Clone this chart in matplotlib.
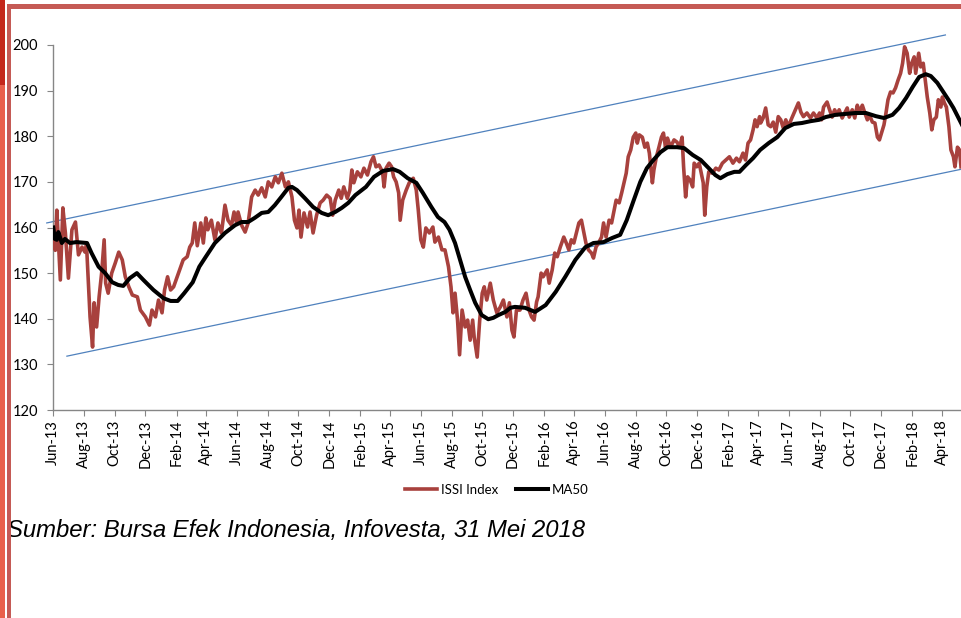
import matplotlib.pyplot as plt
import matplotlib.dates as mdates
import pandas as pd
from matplotlib.patches import Rectangle

# data (ISSI index and its 50-day moving average)
issi_dates = [
    "2013-06-03", "2013-06-05", "2013-06-08", "2013-06-15", "2013-06-20", "2013-06-25", "2013-07-01", "2013-07-08",
    "2013-07-15", "2013-07-21", "2013-07-28", "2013-08-03", "2013-08-06", "2013-08-13", "2013-08-18", "2013-08-21",
    "2013-08-26", "2013-08-31", "2013-09-05", "2013-09-10", "2013-09-13", "2013-09-18", "2013-09-25", "2013-10-02",
    "2013-10-09", "2013-10-16", "2013-10-22", "2013-10-29", "2013-11-05", "2013-11-15", "2013-11-21", "2013-12-01",
    "2013-12-09", "2013-12-14", "2013-12-21", "2013-12-27", "2014-01-03", "2014-01-08", "2014-01-14", "2014-01-20",
    "2014-01-26", "2014-02-02", "2014-02-09", "2014-02-14", "2014-02-22", "2014-02-27", "2014-03-04", "2014-03-09",
    "2014-03-14", "2014-03-21", "2014-03-26", "2014-03-31", "2014-04-04", "2014-04-11", "2014-04-18", "2014-04-24",
    "2014-05-01", "2014-05-08", "2014-05-14", "2014-05-21", "2014-05-26", "2014-05-31", "2014-06-03", "2014-06-10",
    "2014-06-17", "2014-06-23", "2014-06-30", "2014-07-07", "2014-07-13", "2014-07-20", "2014-07-27", "2014-08-02",
    "2014-08-09", "2014-08-16", "2014-08-22", "2014-08-29", "2014-09-05", "2014-09-11", "2014-09-18", "2014-09-23",
    "2014-09-28", "2014-10-02", "2014-10-06", "2014-10-12", "2014-10-19", "2014-10-24", "2014-10-30", "2014-11-06",
    "2014-11-13", "2014-11-19", "2014-11-26", "2014-12-03", "2014-12-08", "2014-12-13", "2014-12-20", "2014-12-25",
    "2014-12-30", "2015-01-06", "2015-01-11", "2015-01-15", "2015-01-19", "2015-01-26", "2015-02-02", "2015-02-08",
    "2015-02-15", "2015-02-22", "2015-02-27", "2015-03-04", "2015-03-10", "2015-03-17", "2015-03-20", "2015-03-24",
    "2015-03-30", "2015-04-04", "2015-04-08", "2015-04-13", "2015-04-18", "2015-04-21", "2015-04-26", "2015-05-03",
    "2015-05-09", "2015-05-17", "2015-05-23", "2015-05-27", "2015-06-01", "2015-06-06", "2015-06-11", "2015-06-18",
    "2015-06-25", "2015-06-29", "2015-07-06", "2015-07-13", "2015-07-19", "2015-07-26", "2015-07-31", "2015-08-04",
    "2015-08-08", "2015-08-13", "2015-08-17", "2015-08-22", "2015-08-28", "2015-09-02", "2015-09-07", "2015-09-12",
    "2015-09-15", "2015-09-21", "2015-09-26", "2015-10-01", "2015-10-05", "2015-10-10", "2015-10-17", "2015-10-23",
    "2015-10-30", "2015-11-06", "2015-11-12", "2015-11-19", "2015-11-24", "2015-11-29", "2015-12-03", "2015-12-08",
    "2015-12-15", "2015-12-21", "2015-12-27", "2016-01-02", "2016-01-07", "2016-01-12", "2016-01-17", "2016-01-20",
    "2016-01-26", "2016-01-30", "2016-02-07", "2016-02-11", "2016-02-17", "2016-02-22", "2016-02-27", "2016-03-04",
    "2016-03-11", "2016-03-16", "2016-03-21", "2016-03-26", "2016-03-31", "2016-04-05", "2016-04-10", "2016-04-15",
    "2016-04-20", "2016-04-24", "2016-04-29", "2016-05-05", "2016-05-09", "2016-05-14", "2016-05-19", "2016-05-25",
    "2016-05-29", "2016-06-03", "2016-06-09", "2016-06-14", "2016-06-19", "2016-06-23", "2016-06-29", "2016-07-04",
    "2016-07-09", "2016-07-13", "2016-07-17", "2016-07-22", "2016-07-27", "2016-08-01", "2016-08-04", "2016-08-08",
    "2016-08-14", "2016-08-19", "2016-08-24", "2016-08-28", "2016-09-03", "2016-09-06", "2016-09-11", "2016-09-16",
    "2016-09-21", "2016-09-25", "2016-09-29", "2016-10-03", "2016-10-09", "2016-10-16", "2016-10-22", "2016-10-27",
    "2016-11-01", "2016-11-04", "2016-11-08", "2016-11-12", "2016-11-17", "2016-11-22", "2016-11-25", "2016-11-30",
    "2016-12-05", "2016-12-09", "2016-12-13", "2016-12-16", "2016-12-20", "2016-12-24", "2016-12-31", "2017-01-07",
    "2017-01-13", "2017-01-20", "2017-01-27", "2017-02-03", "2017-02-10", "2017-02-17", "2017-02-23", "2017-03-02",
    "2017-03-07", "2017-03-12", "2017-03-17", "2017-03-22", "2017-03-26", "2017-03-30", "2017-04-04", "2017-04-06",
    "2017-04-11", "2017-04-16", "2017-04-21", "2017-04-26", "2017-05-01", "2017-05-06", "2017-05-11", "2017-05-16",
    "2017-05-21", "2017-05-26", "2017-05-31", "2017-06-07", "2017-06-14", "2017-06-20", "2017-06-25", "2017-06-30",
    "2017-07-07", "2017-07-14", "2017-07-20", "2017-07-27", "2017-08-01", "2017-08-05", "2017-08-09", "2017-08-16",
    "2017-08-21", "2017-08-26", "2017-08-31", "2017-09-05", "2017-09-09", "2017-09-15", "2017-09-20", "2017-09-25",
    "2017-09-29", "2017-10-05", "2017-10-10", "2017-10-15", "2017-10-19", "2017-10-25", "2017-10-30", "2017-11-04",
    "2017-11-08", "2017-11-14", "2017-11-19", "2017-11-24", "2017-11-28", "2017-12-02", "2017-12-07", "2017-12-11",
    "2017-12-15", "2017-12-20", "2017-12-25", "2017-12-30", "2018-01-04", "2018-01-09", "2018-01-13", "2018-01-17",
    "2018-01-22", "2018-01-27", "2018-01-31", "2018-02-05", "2018-02-08", "2018-02-14", "2018-02-18", "2018-02-23",
    "2018-02-27", "2018-03-03", "2018-03-08", "2018-03-12", "2018-03-16", "2018-03-21", "2018-03-25", "2018-03-30",
    "2018-04-02", "2018-04-06", "2018-04-10", "2018-04-15", "2018-04-19", "2018-04-24", "2018-04-27", "2018-05-02",
    "2018-05-06", "2018-05-09",
]
issi_values = [
    158.0, 155.0, 163.8, 148.5, 164.3, 158.8, 148.9, 159.5,
    161.2, 154.0, 155.7, 154.6, 156.2, 140.4, 133.8, 143.5,
    138.2, 144.8, 150.0, 157.3, 147.8, 145.6, 150.0, 152.2,
    154.6, 152.9, 149.2, 147.0, 145.2, 144.8, 141.9, 140.4,
    138.6, 141.9, 140.4, 144.1, 141.3, 146.3, 149.2, 146.3,
    147.0, 149.2, 151.4, 152.9, 153.6, 155.7, 156.6, 161.0,
    156.0, 161.0, 156.6, 162.1, 159.5, 161.6, 157.3, 161.0,
    158.8, 164.9, 161.6, 160.5, 163.4, 161.0, 163.4, 160.5,
    159.0, 161.0, 166.7, 168.2, 167.1, 168.7, 166.7, 170.0,
    168.9, 171.1, 169.8, 171.9, 168.9, 170.0, 166.7, 161.6,
    159.9, 163.8, 157.9, 163.2, 160.1, 163.4, 158.8, 162.7,
    165.4, 166.0, 167.1, 166.4, 162.7, 166.0, 168.2, 166.4,
    168.9, 166.4, 168.2, 172.6, 169.8, 172.2, 171.1, 173.0,
    171.5, 174.4, 175.5, 173.3, 173.7, 172.2, 168.9, 173.0,
    174.1, 173.3, 171.1, 170.0, 167.6, 161.6, 166.0, 168.2,
    169.8, 170.8, 168.2, 163.8, 157.3, 155.7, 159.9, 158.8,
    160.1, 156.8, 157.9, 155.1, 155.1, 151.4, 147.0, 141.3,
    145.6, 139.7, 132.1, 141.9, 138.2, 139.7, 135.3, 139.7,
    136.0, 131.6, 139.7, 145.6, 147.0, 144.1, 147.8, 144.1,
    141.3, 142.6, 144.1, 140.4, 143.5, 137.5, 136.0, 141.9,
    141.9, 144.1, 145.6, 141.9, 140.4, 139.7, 143.7, 144.8,
    150.0, 149.2, 150.7, 147.8, 150.7, 154.4, 153.6, 155.7,
    157.9, 156.6, 155.1, 157.3, 156.6, 158.8, 161.0, 161.6,
    158.8, 156.6, 155.1, 154.4, 153.3, 155.7, 156.6, 157.9,
    161.0, 157.9, 161.6, 161.0, 163.8, 166.0, 165.4, 167.6,
    170.0, 171.9, 175.5, 177.0, 179.8, 180.7, 178.5, 180.3,
    179.8, 177.6, 178.5, 176.3, 169.8, 172.6, 175.5, 177.6,
    179.8, 180.7, 177.6, 179.6, 177.6, 179.2, 178.7, 177.6,
    179.8, 173.3, 166.7, 171.1, 170.4, 168.9, 174.1, 173.3,
    174.1, 171.9, 169.8, 162.7, 168.9, 172.2, 171.9, 173.0,
    172.6, 174.1, 174.8, 175.5, 174.1, 175.2, 174.4, 176.3,
    174.8, 178.5, 179.2, 181.4, 183.6, 182.1, 184.3, 182.9,
    184.0, 186.2, 182.5, 182.1, 183.1, 180.9, 184.3, 183.6,
    181.8, 183.6, 182.1, 184.0, 185.8, 187.3, 185.3, 184.3,
    185.1, 184.0, 185.1, 184.0, 185.1, 183.6, 186.4, 187.5,
    185.8, 184.2, 185.8, 184.7, 185.8, 184.0, 185.1, 186.2,
    184.2, 185.8, 184.0, 186.8, 185.3, 186.8, 185.1, 183.6,
    184.7, 183.1, 182.9, 179.8, 179.2, 180.7, 182.5, 185.1,
    188.0, 189.7, 189.5, 190.6, 192.3, 193.8, 196.0, 199.6,
    198.2, 193.8, 196.0, 197.4, 193.8, 198.2, 195.2, 196.0,
    192.3, 188.6, 185.1, 181.4, 183.6, 184.2, 188.0, 186.4,
    188.6, 187.3, 186.4, 182.1, 177.0, 175.5, 173.3, 177.6,
    177.0, 173.3,
]

ma50_dates = [
    "2013-06-01", "2013-06-04", "2013-06-08", "2013-06-11", "2013-06-18", "2013-06-24", "2013-07-04", "2013-07-17",
    "2013-08-07", "2013-08-16", "2013-08-30", "2013-09-12", "2013-09-26", "2013-10-08", "2013-10-18", "2013-10-31",
    "2013-11-14", "2013-11-27", "2013-12-17", "2014-01-06", "2014-01-20", "2014-02-03", "2014-02-16", "2014-03-05",
    "2014-03-18", "2014-03-31", "2014-04-18", "2014-05-08", "2014-05-28", "2014-06-10", "2014-06-23", "2014-07-06",
    "2014-07-20", "2014-08-02", "2014-08-15", "2014-08-28", "2014-09-11", "2014-09-18", "2014-09-28", "2014-10-14",
    "2014-10-30", "2014-11-16", "2014-11-29", "2014-12-13", "2014-12-26", "2015-01-08", "2015-01-22", "2015-02-12",
    "2015-02-28", "2015-03-18", "2015-04-07", "2015-04-20", "2015-05-06", "2015-05-23", "2015-06-05", "2015-06-22",
    "2015-07-05", "2015-07-18", "2015-07-28", "2015-08-08", "2015-08-18", "2015-08-28", "2015-09-07", "2015-09-17",
    "2015-09-30", "2015-10-13", "2015-10-23", "2015-11-02", "2015-11-16", "2015-11-26", "2015-12-05", "2015-12-25",
    "2016-01-14", "2016-02-04", "2016-02-24", "2016-03-14", "2016-04-03", "2016-04-23", "2016-05-09", "2016-05-29",
    "2016-06-15", "2016-07-01", "2016-07-14", "2016-07-28", "2016-08-10", "2016-08-23", "2016-09-05", "2016-09-19",
    "2016-10-03", "2016-10-22", "2016-11-05", "2016-11-22", "2016-12-08", "2016-12-24", "2017-01-06", "2017-01-16",
    "2017-01-30", "2017-02-13", "2017-02-23", "2017-03-08", "2017-03-22", "2017-04-05", "2017-04-22", "2017-05-09",
    "2017-05-25", "2017-06-11", "2017-06-27", "2017-07-14", "2017-07-31", "2017-08-13", "2017-09-02", "2017-09-22",
    "2017-10-12", "2017-11-01", "2017-11-21", "2017-12-07", "2017-12-24", "2018-01-06", "2018-01-20", "2018-02-02",
    "2018-02-15", "2018-02-28", "2018-03-10", "2018-03-23", "2018-04-04", "2018-04-14", "2018-04-24", "2018-05-04",
    "2018-05-11",
]
ma50_values = [
    160.0, 157.5, 157.3, 159.0, 156.6, 157.5, 156.6, 156.8,
    156.6, 154.4, 151.4, 150.0, 148.0, 147.4, 147.2, 148.9,
    150.0, 148.5, 146.3, 144.5, 143.9, 143.9, 145.6, 148.0,
    151.4, 153.6, 156.6, 158.8, 160.5, 161.2, 161.2, 162.1,
    163.2, 163.4, 164.9, 166.7, 168.7, 168.9, 168.2, 166.4,
    164.5, 163.2, 162.7, 163.4, 164.3, 165.4, 167.1, 168.9,
    171.1, 172.4, 172.8, 172.2, 170.8, 169.8, 167.6, 164.5,
    162.3, 161.2, 159.5, 156.6, 152.9, 149.2, 146.3, 143.5,
    140.8, 139.9, 140.2, 140.8, 141.5, 142.4, 142.6, 142.4,
    141.5, 143.0, 145.9, 149.2, 152.9, 155.7, 156.6, 156.8,
    157.7, 158.4, 161.6, 166.0, 170.0, 173.0, 174.8, 176.5,
    177.6, 177.6, 177.4, 175.9, 174.8, 173.0, 171.5, 170.8,
    171.7, 172.2, 172.2, 173.7, 175.2, 177.0, 178.5, 179.8,
    181.8, 182.7, 182.9, 183.3, 183.6, 184.2, 184.7, 184.9,
    185.1, 185.1, 184.4, 184.0, 184.7, 186.2, 188.4, 190.8,
    193.0, 193.6, 193.2, 191.7, 189.7, 188.0, 186.2, 184.0,
    182.5,
]

# hand drawn trend channel
upper_dates = ["2013-05-19", "2018-04-08"]
upper_values = [161.0, 202.2]
lower_dates = ["2013-06-28", "2018-05-11"]
lower_values = [131.8, 172.8]

y_ticks = [120, 130, 140, 150, 160, 170, 180, 190, 200]
source_text = "Sumber: Bursa Efek Indonesia, Infovesta, 31 Mei 2018"

plt.rcParams['font.family'] = ['Lato', 'DejaVu Sans']

W, H = 962, 618
fig = plt.figure(figsize=(W / 100, H / 100), dpi=100)
ax = fig.add_axes([53.3 / W, 1 - 410 / H, 1 - 53.3 / W, 365 / H])

ax.plot(pd.to_datetime(issi_dates), issi_values, color="#A8413D", lw=2.6,
        solid_joinstyle="round", label="ISSI Index", zorder=3)
ax.plot(pd.to_datetime(ma50_dates), ma50_values, color="black", lw=2.9,
        solid_joinstyle="round", label="MA50", zorder=4)
ax.plot(pd.to_datetime(upper_dates), upper_values, color="#4F81BD", lw=0.9, clip_on=False, zorder=2)
ax.plot(pd.to_datetime(lower_dates), lower_values, color="#4F81BD", lw=0.9, clip_on=False, zorder=2)

ax.set_ylim(120, 200)
ax.set_yticks(y_ticks)
ax.set_xlim(pd.Timestamp("2013-06-01"), pd.Timestamp("2018-05-11"))
ax.xaxis.set_major_locator(mdates.MonthLocator(bymonth=[2, 4, 6, 8, 10, 12]))
ax.xaxis.set_major_formatter(mdates.DateFormatter("%b-%y"))

for s in ["top", "right"]:
    ax.spines[s].set_visible(False)
for s in ["left", "bottom"]:
    ax.spines[s].set_color("#868686")
    ax.spines[s].set_linewidth(1.0)
ax.tick_params(axis="y", length=4, color="#868686", labelsize=10.5, pad=7)
ax.tick_params(axis="x", length=4, color="#868686", labelsize=10.5, pad=3, rotation=90)

fig.legend(loc="center", bbox_to_anchor=(497 / W, 1 - 490 / H), ncol=2, frameon=False,
           fontsize=9.5, handlelength=2.4, handletextpad=0.3, columnspacing=1.4)

fig.text(7 / W, 1 - 531 / H, source_text, fontsize=17.2, style="italic",
         family="Liberation Sans", va="center", ha="left")

# red frame of the slide
fig.add_artist(Rectangle((0, 1 - 85 / H), 5 / W, 85 / H, transform=fig.transFigure,
                         color="#C4281C", lw=0, zorder=10))
fig.add_artist(Rectangle((0, 0), 5 / W, 1 - 85 / H, transform=fig.transFigure,
                         color="#E9604B", lw=0, zorder=10))
fig.add_artist(Rectangle((7.5 / W, 0), 3.5 / W, 1 - 4 / H, transform=fig.transFigure,
                         color="#C55A55", lw=0, zorder=10))
fig.add_artist(Rectangle((7.5 / W, 1 - 9 / H), 1, 5 / H, transform=fig.transFigure,
                         color="#C55A55", lw=0, zorder=10))

fig.savefig("out.png", dpi=100)
